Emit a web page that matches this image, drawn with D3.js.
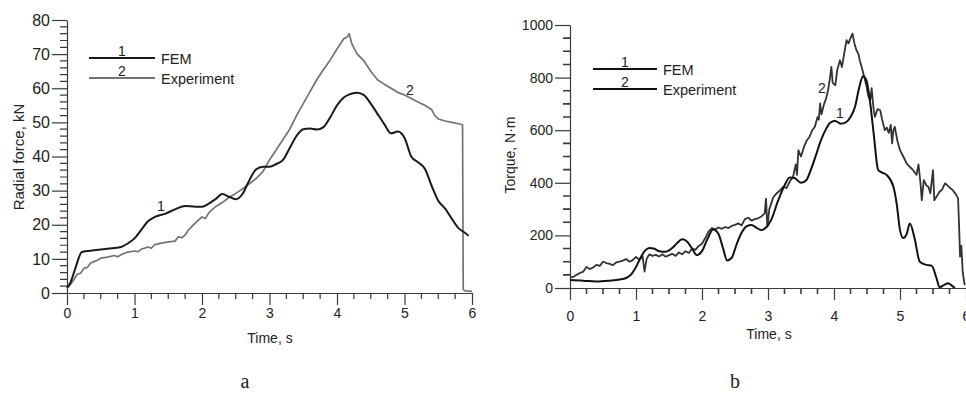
<!DOCTYPE html>
<html><head><meta charset="utf-8">
<script src="https://cdn.jsdelivr.net/npm/d3@7"></script>
<style>
html,body{margin:0;padding:0;background:#fff;overflow:hidden;}
text{font-family:Arial,"Liberation Sans",sans-serif;fill:#222;}
</style></head>
<body><svg id="c" width="966" height="395"></svg>
<script>
// ---------- DATA ----------
// Panel a: radial force (kN) vs time (s)
const aFemTime = [0,0.05,0.12,0.22,0.4,0.6,0.8,0.9,1.0,1.1,1.2,1.3,1.45,1.6,1.75,1.9,2.0,2.1,2.2,2.3,2.4,2.5,2.6,2.7,2.8,2.9,3.0,3.1,3.2,3.3,3.4,3.5,3.6,3.7,3.8,3.9,4.0,4.1,4.2,4.3,4.4,4.5,4.6,4.7,4.8,4.9,5.0,5.1,5.2,5.3,5.4,5.5,5.6,5.7,5.8,5.9,5.95];
const aFemForce = [1.5,3,7,12,12.5,13,13.5,14.5,16,18.5,21,22.3,23.2,24.5,25.5,25.3,25.3,26.2,27.5,29,28.2,27.5,29,33,36.2,37,37,37.8,39,42.5,46,48,48.2,47.9,48.6,51.5,55,57.3,58.3,58.7,58,55.5,52.5,49.5,46.8,47.3,45.5,40,38.3,36.5,31.5,27,24.8,21.8,19,17.6,16.8];
const aExpTime = [0,0.05,0.1,0.15,0.2,0.25,0.3,0.35,0.4,0.45,0.5,0.6,0.7,0.75,0.8,0.9,1.0,1.05,1.1,1.2,1.25,1.3,1.4,1.5,1.6,1.65,1.7,1.75,1.8,1.9,2.0,2.05,2.1,2.2,2.3,2.4,2.5,2.6,2.7,2.8,2.9,3.0,3.1,3.2,3.3,3.4,3.5,3.6,3.7,3.8,3.9,4.0,4.1,4.15,4.18,4.22,4.3,4.4,4.5,4.6,4.7,4.8,4.9,5.0,5.1,5.2,5.3,5.4,5.45,5.5,5.6,5.7,5.8,5.86,5.87,5.9,6.0];
const aExpForce = [1.5,2.5,3.8,5.5,5.8,7.2,7.5,8.8,9.2,9.6,10.2,10.5,11,10.6,11.2,12,12.3,12.1,12.8,13.5,13.1,14.2,14.6,15,15.2,16.5,16.2,17,18.5,20.5,22.3,21.8,23.5,25.3,26.5,28,29.2,30.5,32,33.5,35.5,39,42,45,48,52,55.5,59,62.5,65.5,68.3,71.5,74.5,75,76,73,70,68,65,62.5,61.2,60,58.8,58,57,56,55,53.8,52,51,50.4,50,49.6,49.3,1,0.6,0.5];
// Panel b: torque (N·m) vs time (s)
const bFemTime = [0,0.2,0.4,0.6,0.75,0.85,0.92,1.0,1.07,1.13,1.2,1.27,1.35,1.45,1.55,1.62,1.7,1.78,1.85,1.92,2.0,2.08,2.17,2.25,2.32,2.38,2.45,2.53,2.6,2.68,2.75,2.82,2.9,2.97,3.05,3.15,3.25,3.33,3.4,3.5,3.58,3.65,3.72,3.8,3.88,3.95,4.02,4.1,4.18,4.25,4.32,4.38,4.44,4.49,4.55,4.6,4.67,4.72,4.8,4.9,4.95,5.0,5.05,5.1,5.15,5.22,5.3,5.4,5.48,5.55,5.6,5.67,5.73,5.78,5.83];
const bFemTorque = [30,28,25,28,32,38,50,80,115,140,152,150,140,138,152,170,185,175,150,125,140,185,222,205,150,105,115,170,210,235,240,230,220,230,260,330,390,420,418,400,410,450,500,560,605,630,635,625,630,650,690,760,805,790,700,590,448,440,429,385,320,220,190,205,245,190,100,88,85,40,3,12,18,10,0];
const bExpTime = [0,0.05,0.1,0.15,0.2,0.25,0.3,0.35,0.4,0.45,0.5,0.55,0.6,0.65,0.7,0.75,0.8,0.85,0.9,0.95,1.0,1.05,1.1,1.13,1.16,1.2,1.25,1.3,1.35,1.4,1.45,1.5,1.55,1.6,1.65,1.7,1.75,1.8,1.85,1.9,1.95,2.0,2.05,2.1,2.15,2.2,2.25,2.3,2.35,2.4,2.45,2.5,2.55,2.6,2.65,2.7,2.75,2.8,2.85,2.9,2.95,2.97,2.99,3.02,3.08,3.13,3.18,3.23,3.28,3.33,3.38,3.42,3.44,3.46,3.5,3.55,3.59,3.63,3.67,3.71,3.75,3.77,3.79,3.81,3.85,3.88,3.91,3.94,3.96,3.98,4.02,4.05,4.09,4.12,4.16,4.19,4.22,4.25,4.28,4.31,4.34,4.37,4.39,4.43,4.47,4.49,4.52,4.55,4.57,4.6,4.62,4.66,4.7,4.73,4.77,4.8,4.83,4.86,4.88,4.9,4.92,4.96,5.0,5.05,5.1,5.15,5.2,5.25,5.28,5.31,5.33,5.36,5.4,5.43,5.46,5.5,5.52,5.56,5.6,5.64,5.68,5.72,5.76,5.8,5.85,5.88,5.9,5.91,5.93,5.95,5.98];
const bExpTorque = [40,42,50,57,62,80,72,78,88,84,100,95,92,87,97,100,104,110,100,106,118,108,120,62,110,128,122,126,120,128,119,125,130,122,135,128,140,133,150,145,160,168,190,215,228,222,230,225,232,228,236,240,246,238,262,267,256,262,265,272,284,340,233,300,345,360,370,385,380,405,423,470,430,524,500,540,562,575,600,613,650,640,702,660,700,720,752,800,841,780,771,830,866,840,900,942,930,950,967,930,904,890,866,830,790,771,730,714,760,680,651,680,676,640,600,610,590,620,550,600,613,560,524,500,474,460,448,430,470,400,334,410,390,385,360,448,334,350,366,375,398,390,380,372,355,341,200,119,160,60,11];
// Axis ticks
const timeTicks = [0,1,2,3,4,5,6];
const forceTicks = [0,10,20,30,40,50,60,70,80];
const torqueTicks = [0,200,400,600,800,1000];

// ---------- DRAW ----------
const svg = d3.select("#c");
const axisColor = "#3a3a3a";

function panel(o){
  const x = d3.scaleLinear().domain([0,6]).range(o.xr);
  const y = d3.scaleLinear().domain(o.yd).range(o.yr);
  const g = svg.append("g");
  const x0 = o.xr[0], y0 = o.yr[0];
  // minor ticks (drawn from the scales)
  const mx = d3.range(0,25).map(i=>i*0.25).filter(v=>v%1!==0);
  const my = d3.range(o.yd[0],o.yd[1]+0.01,o.minor).filter(v=>o.yticks.indexOf(v)<0);
  g.append("path")
    .attr("d", mx.map(d=>`M${x(d)},${y0}V${y0+6}`).join("") + my.map(d=>`M${x0-7},${y(d)}H${x0}`).join(""))
    .attr("fill","none").attr("stroke",axisColor).attr("stroke-width",o.minorW);
  // major axes
  const xa = g.append("g").attr("transform",`translate(0,${y0})`)
    .call(d3.axisBottom(x).tickValues(timeTicks).tickFormat(d3.format("d")).tickSize(12).tickSizeOuter(0).tickPadding(o.xpad));
  const ya = g.append("g").attr("transform",`translate(${x0},0)`)
    .call(d3.axisLeft(y).tickValues(o.yticks).tickFormat(d3.format("d")).tickSize(15).tickSizeOuter(0).tickPadding(2));
  xa.selectAll("text").style("font-size","14px");
  ya.selectAll("text").style("font-size",o.yfs+"px");
  xa.selectAll(".tick line, .domain").attr("stroke",axisColor).attr("stroke-width",1.2);
  ya.selectAll(".tick line, .domain").attr("stroke",axisColor).attr("stroke-width",1.2);
  g.selectAll("text").attr("fill","#222");
  // lines
  const lineS = d3.line().x(d=>x(d[0])).y(d=>y(d[1])).curve(d3.curveMonotoneX);
  const lineL = d3.line().x(d=>x(d[0])).y(d=>y(d[1]));
  g.append("path").datum(d3.zip(o.expT,o.expV)).attr("d",lineL)
    .attr("fill","none").attr("stroke",o.expColor).attr("stroke-width",o.expW).attr("stroke-linejoin","round");
  g.append("path").datum(d3.zip(o.femT,o.femV)).attr("d",lineS)
    .attr("fill","none").attr("stroke",o.femColor).attr("stroke-width",2).attr("stroke-linejoin","round");
  // axis titles
  g.append("text").attr("x",o.xTitle[0]).attr("y",o.xTitle[1]).attr("text-anchor","middle")
    .style("font-size","14px").text("Time, s");
  g.append("text").attr("transform",`translate(${o.yTitle[0]},${o.yTitle[1]}) rotate(-90)`)
    .attr("text-anchor","middle").style("font-size",o.ytfs+"px").text(o.ylabel);
  // legend
  const L = o.legend;
  [[L.y1,"1","FEM",o.femColor],[L.y2,"2","Experiment",o.legExpColor]].forEach(r=>{
    g.append("line").attr("x1",L.x1).attr("x2",L.x2).attr("y1",r[0]).attr("y2",r[0])
      .attr("stroke",r[3]).attr("stroke-width",2);
    g.append("text").attr("x",(L.x1+L.x2)/2).attr("y",r[0]-2).attr("text-anchor","middle")
      .style("font-size","14px").text(r[1]);
    g.append("text").attr("x",L.x2+6).attr("y",r[0]+6).style("font-size","14.5px").text(r[2]);
  });
  // curve labels
  o.curveLabels.forEach(c=>{
    g.append("text").attr("x",c[0]).attr("y",c[1]).attr("text-anchor","middle")
      .style("font-size","14px").text(c[2]);
  });
  // panel letter
  g.append("text").attr("x",o.letter[0]).attr("y",o.letter[1]).attr("text-anchor","middle")
    .style("font-family","'Liberation Serif','Times New Roman',serif").style("font-size","20px")
    .text(o.letter[2]);
}

panel({xr:[67,472], yd:[0,80], yr:[293,20], minor:2, minorW:1.2, yticks:forceTicks, yfs:16, xpad:3,
  femT:aFemTime, femV:aFemForce, expT:aExpTime, expV:aExpForce,
  femColor:"#1a1a1a", expColor:"#737373", expW:1.7, legExpColor:"#737373",
  xTitle:[270,343], yTitle:[24,157], ylabel:"Radial force, kN", ytfs:15,
  legend:{x1:89,x2:155,y1:58,y2:78},
  curveLabels:[[161,211,"1"],[410,95,"2"]],
  letter:[245,388,"a"]});

panel({xr:[570,966], yd:[0,1000], yr:[288,25], minor:50, minorW:1.6, yticks:torqueTicks, yfs:14, xpad:11,
  femT:bFemTime, femV:bFemTorque, expT:bExpTime, expV:bExpTorque,
  femColor:"#111", expColor:"#333", expW:1.8, legExpColor:"#111",
  xTitle:[769,339], yTitle:[515,155], ylabel:"Torque, N·m", ytfs:14,
  legend:{x1:593,x2:657,y1:69,y2:89},
  curveLabels:[[822,93,"2"],[840,118,"1"]],
  letter:[735,388,"b"]});
</script></body></html>
